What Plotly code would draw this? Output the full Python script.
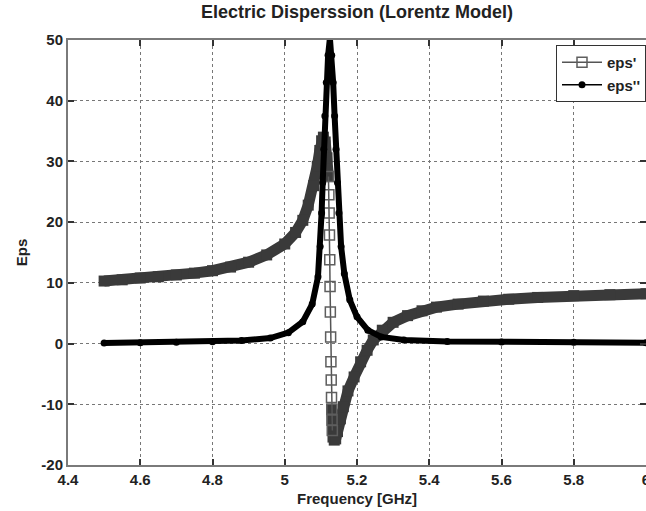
import plotly.graph_objects as go

# ---- data ----
freq_re = [4.50, 4.55, 4.60, 4.65, 4.70, 4.75, 4.80, 4.85, 4.90, 4.95, 5.00, 5.03, 5.05, 5.065,
           5.08, 5.09, 5.097, 5.102, 5.107, 5.112, 5.117, 5.121, 5.1222, 5.1230, 5.1238, 5.1246,
           5.1254, 5.1262, 5.1270, 5.1278, 5.1286, 5.1294, 5.1302, 5.1310, 5.1318, 5.1335, 5.137,
           5.141, 5.146, 5.154, 5.162, 5.175, 5.192, 5.21, 5.228, 5.245, 5.27, 5.30, 5.34, 5.38,
           5.42, 5.48, 5.55, 5.62, 5.70, 5.80, 5.90, 6.00]
eps_re = [10.3, 10.5, 10.8, 11.0, 11.3, 11.6, 12.0, 12.6, 13.4, 14.6, 16.4, 18.3, 20.3, 22.8,
          26.0, 29.2, 31.8, 33.4, 34.0, 33.2, 30.6, 27.5, 24.5, 21.5, 17.9, 13.8,
          9.4, 5.2, 1.1, -3.0, -6.0, -8.9, -10.8, -12.6, -14.3, -15.4, -15.9,
          -15.7, -14.5, -12.4, -10.4, -7.8, -5.5, -3.0, -1.1, 0.6, 2.2, 3.5, 4.6, 5.4,
          6.0, 6.5, 7.0, 7.3, 7.6, 7.9, 8.05, 8.2]

freq_im = [4.50, 4.60, 4.70, 4.80, 4.88, 4.96, 5.01, 5.05, 5.076, 5.092, 5.098, 5.102, 5.105,
           5.108, 5.111, 5.115, 5.120, 5.125, 5.130, 5.134, 5.138, 5.142, 5.146, 5.150, 5.156,
           5.165, 5.180, 5.200, 5.230, 5.267, 5.33, 5.45, 5.60, 5.80, 6.00]
eps_im = [0.1, 0.15, 0.2, 0.3, 0.5, 0.9, 1.8, 3.6, 6.5, 11.0, 16.0, 21.5, 26.5,
          32.0, 37.5, 43.0, 47.5, 50.3, 47.5, 43.0, 37.5, 32.0, 26.5, 21.5, 16.0,
          11.5, 7.2, 4.4, 2.2, 1.1, 0.6, 0.35, 0.25, 0.2, 0.15]

x_ticks = [4.4, 4.6, 4.8, 5.0, 5.2, 5.4, 5.6, 5.8, 6.0]
x_tick_labels = ["4.4", "4.6", "4.8", "5", "5.2", "5.4", "5.6", "5.8", "6"]
y_ticks = [-20, -10, 0, 10, 20, 30, 40, 50]
y_tick_labels = ["-20", "-10", "0", "10", "20", "30", "40", "50"]

# split eps' into dense-band parts and the steep part (drawn with distinct squares)
left_idx = [i for i, f in enumerate(freq_re) if f <= 5.121]
steep_idx = [i for i, f in enumerate(freq_re) if 5.121 <= f <= 5.1318]
right_idx = [i for i, f in enumerate(freq_re) if f >= 5.1302]

BAND = "#3a3a3a"
SQ = "#5e5e5e"
FONT = "Liberation Sans, Arial, sans-serif"

fig = go.Figure()
for idx in (left_idx, right_idx):
    fig.add_trace(go.Scatter(
        x=[freq_re[i] for i in idx], y=[eps_re[i] for i in idx],
        mode="lines+markers", line=dict(color=BAND, width=11),
        marker=dict(symbol="square", size=11, color=BAND),
        showlegend=False, hoverinfo="skip"))
fig.add_trace(go.Scatter(
    x=[freq_re[i] for i in steep_idx], y=[eps_re[i] for i in steep_idx],
    mode="lines+markers", name="eps'", legendrank=1,
    line=dict(color="#555555", width=1.5),
    marker=dict(symbol="square-open", size=10, color=SQ, line=dict(width=1.5, color=SQ))))
# eps'' : dense band + thin line with dots
fig.add_trace(go.Scatter(
    x=freq_im, y=eps_im, mode="lines", line=dict(color="black", width=6),
    showlegend=False, hoverinfo="skip"))
fig.add_trace(go.Scatter(
    x=freq_im, y=eps_im, mode="lines+markers", name="eps''", legendrank=2,
    line=dict(color="black", width=1.5),
    marker=dict(symbol="circle", size=7, color="black")))

axis_common = dict(
    showline=True, linecolor="#7a7a7a", linewidth=2, mirror="allticks",
    ticks="inside", ticklen=6, tickwidth=1.5, tickcolor="#333333",
    showgrid=True, gridcolor="#777777", griddash="dot", gridwidth=1,
    zeroline=False, ticklabeloverflow="allow", automargin=False,
    tickfont=dict(family=FONT, size=15, color="#222222", weight="bold"),
)

fig.update_xaxes(range=[4.4, 6.0], tickvals=x_ticks, ticktext=x_tick_labels,
                 title=dict(text="Frequency [GHz]", standoff=6,
                            font=dict(family=FONT, size=15, color="#222222", weight="bold")),
                 **axis_common)
fig.update_yaxes(range=[-20, 50], tickvals=y_ticks, ticktext=y_tick_labels,
                 title=dict(text="Eps", standoff=10,
                            font=dict(family=FONT, size=15, color="#222222", weight="bold")),
                 **axis_common)

fig.update_layout(
    width=646, height=511,
    margin=dict(l=68, r=0, t=40, b=46, autoexpand=False),
    paper_bgcolor="white", plot_bgcolor="white",
    title=dict(text="Electric Disperssion (Lorentz Model)", x=0.5, xref="paper",
               y=0.977, yanchor="middle",
               font=dict(family=FONT, size=18, color="#222222", weight="bold")),
    legend=dict(x=1, y=0.988, xanchor="right", yanchor="top",
                bgcolor="white", bordercolor="#333333", borderwidth=1,
                font=dict(family=FONT, size=15, color="#222222", weight="bold"),
                tracegroupgap=0, itemwidth=40),
    showlegend=True,
)

fig.write_html("out.html")
